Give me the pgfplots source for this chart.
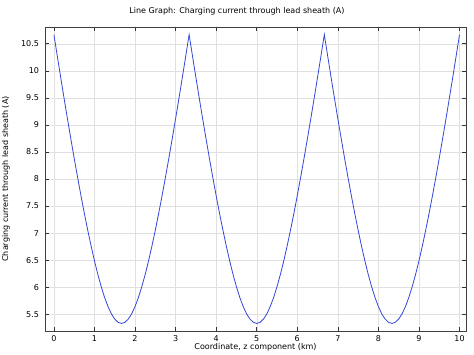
\documentclass[border=0pt]{standalone}
\usepackage{fontspec}
\setmainfont{DejaVu Sans}
\usepackage{pgfplots}
\pgfplotsset{compat=1.18}
\definecolor{curve}{RGB}{50,70,215}
\begin{document}
\begin{tikzpicture}[x=1pt,y=1pt]
\path[use as bounding box] (-45,-24) rectangle (429,331);
\begin{axis}[
  at={(0,0)}, anchor=south west,
  scale only axis, width=421pt, height=304pt,
  xmin=-0.22, xmax=10.16, ymin=5.19, ymax=10.81,
  xtick={0,1,...,10},
  ytick={5.5,6,6.5,7,7.5,8,8.5,9,9.5,10,10.5},
  grid=major, major grid style={black!12, line width=0.4pt},
  tick align=inside, major tick length=4pt,
  tick style={black!80, line width=0.6pt},
  axis line style={black!75, line width=0.9pt},
  /pgf/number format/assume math mode=true,
  ticklabel style={font=\fontsize{8}{9}\selectfont},
  yticklabel style={xshift=-2.5pt},
  xticklabel style={yshift=-1pt},
  label style={font=\fontsize{8}{9}\selectfont},
  title style={font=\fontsize{8}{9}\selectfont, at={(axis description cs:0.456,1)}, anchor=base, yshift=7pt},
  title={Line Graph: Charging current through lead sheath (A)},
  xlabel={Coordinate, z component (km)},
  ylabel={Charging current through lead sheath (A)},
  xlabel style={at={(axis description cs:0.5,0)}, anchor=base, yshift=-19pt},
  ylabel style={at={(axis description cs:-0.093,0.5)}, anchor=center},
]
\addplot[curve, line width=0.8pt] coordinates {
(0,10.670) (0.0833,10.272) (0.1667,9.880) (0.25,9.494) (0.3333,9.115) (0.4167,8.745) (0.5,8.383) (0.5833,8.032) (0.6667,7.692) (0.75,7.366) (0.8333,7.055) (0.9167,6.761) (1,6.487) (1.0833,6.235) (1.1667,6.008) (1.25,5.809) (1.3333,5.642) (1.4167,5.507) (1.5,5.410) (1.5833,5.350) (1.6667,5.330)
(1.75,5.350) (1.8333,5.410) (1.9167,5.507) (2,5.642) (2.0833,5.809) (2.1667,6.008) (2.25,6.235) (2.3333,6.487) (2.4167,6.761) (2.5,7.055) (2.5833,7.366) (2.6667,7.692) (2.75,8.032) (2.8333,8.383) (2.9167,8.745) (3,9.115) (3.0833,9.494) (3.1667,9.880) (3.25,10.272) (3.3333,10.670)
(3.4167,10.272) (3.5,9.880) (3.5833,9.494) (3.6667,9.115) (3.75,8.745) (3.8333,8.383) (3.9167,8.032) (4,7.692) (4.0833,7.366) (4.1667,7.055) (4.25,6.761) (4.3333,6.487) (4.4167,6.235) (4.5,6.008) (4.5833,5.809) (4.6667,5.642) (4.75,5.507) (4.8333,5.410) (4.9167,5.350) (5,5.330)
(5.0833,5.350) (5.1667,5.410) (5.25,5.507) (5.3333,5.642) (5.4167,5.809) (5.5,6.008) (5.5833,6.235) (5.6667,6.487) (5.75,6.761) (5.8333,7.055) (5.9167,7.366) (6,7.692) (6.0833,8.032) (6.1667,8.383) (6.25,8.745) (6.3333,9.115) (6.4167,9.494) (6.5,9.880) (6.5833,10.272) (6.6667,10.670)
(6.75,10.272) (6.8333,9.880) (6.9167,9.494) (7,9.115) (7.0833,8.745) (7.1667,8.383) (7.25,8.032) (7.3333,7.692) (7.4167,7.366) (7.5,7.055) (7.5833,6.761) (7.6667,6.487) (7.75,6.235) (7.8333,6.008) (7.9167,5.809) (8,5.642) (8.0833,5.507) (8.1667,5.410) (8.25,5.350) (8.3333,5.330)
(8.4167,5.350) (8.5,5.410) (8.5833,5.507) (8.6667,5.642) (8.75,5.809) (8.8333,6.008) (8.9167,6.235) (9,6.487) (9.0833,6.761) (9.1667,7.055) (9.25,7.366) (9.3333,7.692) (9.4167,8.032) (9.5,8.383) (9.5833,8.745) (9.6667,9.115) (9.75,9.494) (9.8333,9.880) (9.9167,10.272) (10,10.670)
};
\end{axis}
\end{tikzpicture}
\end{document}
